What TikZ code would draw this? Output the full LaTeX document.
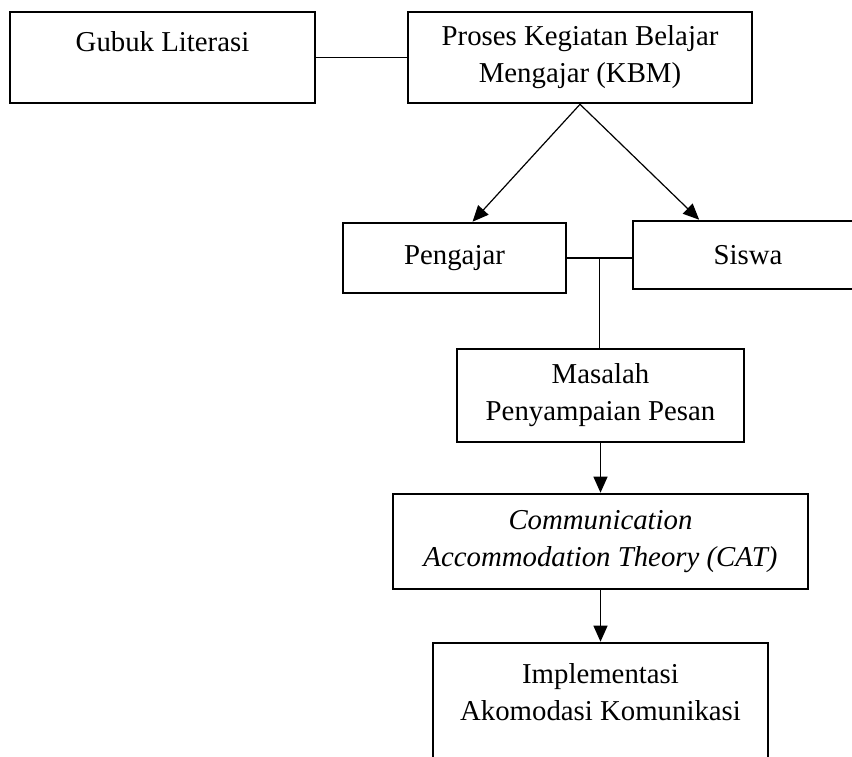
\documentclass[tikz,border=0pt]{standalone}
\usepackage{fontspec}
\setmainfont{Liberation Serif}
\usepackage{tikz}
\usetikzlibrary{arrows.meta, positioning, calc}
\tikzset{
  flowbox/.style={
    draw, line width=1.3pt, align=center, inner sep=0pt,
    font=\fontsize{14.4}{18.5}\selectfont, fill=white
  },
  flowarrow/.style={-{Triangle[length=8pt, width=7pt]}, line width=0.6pt},
  flowline/.style={line width=0.6pt},
}

\begin{document}
\begin{tikzpicture}[x=0.5pt, y=-0.5pt]
  \useasboundingbox (0,0) rectangle (852,756);

  % Boxes
  \node[flowbox, minimum width=152.5pt, minimum height=45.5pt, text depth=15.5pt] (gubuk) at (162.5,57.5) {Gubuk Literasi};
  \node[flowbox, minimum width=172pt, minimum height=45.5pt] (kbm) at (580,57.5) {Proses Kegiatan Belajar\\Mengajar (KBM)};
  \node[flowbox, minimum width=111.5pt, minimum height=35pt] (pengajar) at (454.5,258) {Pengajar};
  \node[flowbox, minimum width=115pt, minimum height=34pt] (siswa) at (748,255) {Siswa};
  \node[flowbox, minimum width=143.5pt, minimum height=46.5pt] (masalah) at (600.5,395.5) {Masalah\\Penyampaian Pesan};
  \node[flowbox, minimum width=207.5pt, minimum height=47.5pt] (cat) at (600.5,541.5) {\textit{Communication}\\\textit{Accommodation Theory (CAT)}};
  \node[flowbox, minimum width=167.5pt, minimum height=68.5pt, text depth=20pt] (impl) at (600.5,711.5) {Implementasi\\Akomodasi Komunikasi};

  % Connectors
  \draw[flowline] (gubuk.east) -- (gubuk.east -| kbm.west);
  \draw[flowarrow] (kbm.south) -- ($(pengajar.north west)!0.58!(pengajar.north east)$);
  \draw[flowarrow] (kbm.south) -- ($(siswa.north west)!0.29!(siswa.north east)$);
  \draw[flowline] (pengajar.east) -- (pengajar.east -| siswa.west);
  \coordinate (join) at ($(pengajar.east)!0.5!(pengajar.east -| siswa.west)$);
  \draw[flowline] (join) -- (join |- masalah.north);
  \draw[flowarrow] (masalah.south) -- (cat.north);
  \draw[flowarrow] (cat.south) -- (impl.north);
\end{tikzpicture}
\end{document}
